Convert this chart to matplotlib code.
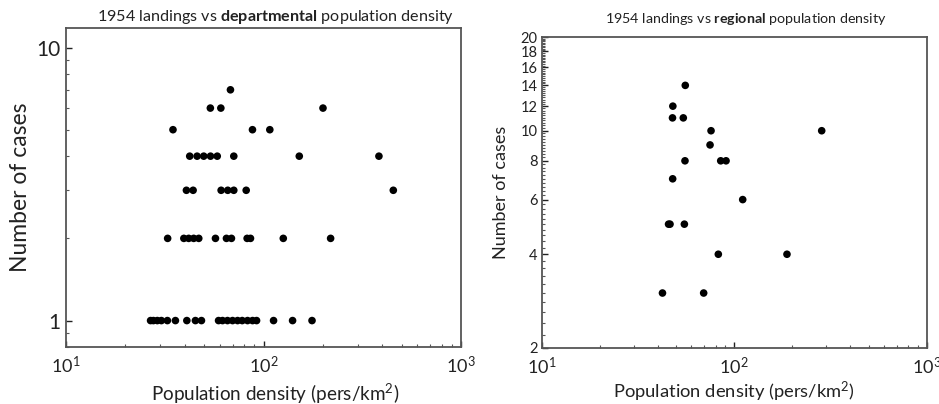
import numpy as np
import matplotlib
matplotlib.use("Agg")
import matplotlib.pyplot as plt
from matplotlib.ticker import LogLocator, FixedLocator, NullFormatter, FixedFormatter

plt.rcParams['font.family'] = ['Lato', 'DejaVu Sans']
plt.rcParams['mathtext.fontset'] = 'custom'
plt.rcParams['mathtext.rm'] = 'Lato'
plt.rcParams['mathtext.it'] = 'Lato:italic'
plt.rcParams['mathtext.bf'] = 'Lato:bold'

# departmental density (pers/km2) and cases, 1954
dep_density = [26.8, 27.7, 29.0, 30.4, 32.6, 35.8, 40.9, 45.2, 48.5,
               59.2, 62.0, 65.7, 69.7, 73.9, 78.0, 83.0, 88.0, 92.2,
               112.4, 140.3, 176,
               32.7, 39.5, 41.8, 44.3, 47.0, 57.1, 64.9, 68.8, 82.6, 85.9, 125.9, 218.6,
               40.7, 44.0, 61.0, 65.9, 70.7, 81.7, 454,
               42.3, 46.1, 49.8, 53.9, 58.3, 70.7, 151.7, 383.9,
               34.8, 87.9, 107.6,
               53.8, 60.8, 200,
               68]
dep_cases = [1]*21 + [2]*12 + [3]*7 + [4]*8 + [5]*3 + [6]*3 + [7]

# regional density and cases
reg_density = [55.7, 48.0, 47.8, 54.4, 75.8, 284.8, 74.9, 55.5, 85.1, 90.7,
               47.9, 110.7, 45.6, 46.4, 55.1, 82.7, 188, 42.4, 69.4]
reg_cases = [14, 12, 11, 11, 10, 10, 9, 8, 8, 8,
             7, 6, 5, 5, 5, 4, 4, 3, 3]

fig = plt.figure(figsize=(9.39, 4.04), dpi=100)
ax1 = fig.add_axes([0.0703, 0.141, 0.4207, 0.790])
ax2 = fig.add_axes([0.5769, 0.1394, 0.41, 0.7683])

spine_col = '#555555'
for ax in (ax1, ax2):
    ax.scatter(dep_density if ax is ax1 else reg_density,
               dep_cases if ax is ax1 else reg_cases,
               s=30, color='black', edgecolors='none', zorder=3)
    ax.set_xscale('log')
    ax.set_yscale('log')
    ax.set_xlim(10, 1000)
    ax.xaxis.set_major_locator(FixedLocator([10, 100, 1000]))
    ax.xaxis.set_major_formatter(FixedFormatter(['$10^1$', '$10^2$', '$10^3$']))
    ax.xaxis.set_minor_locator(LogLocator(base=10, subs=np.arange(2, 10)))
    ax.xaxis.set_minor_formatter(NullFormatter())
    for s in ax.spines.values():
        s.set_color(spine_col)
        s.set_linewidth(1.3)
    ax.tick_params(which='both', direction='in', color=spine_col, top=False, right=False)
    ax.tick_params(which='major', length=4, width=1)
    ax.tick_params(which='minor', length=2.5, width=0.8)
    ax.tick_params(axis='x', labelsize=13, colors='#222222', pad=6)

# left panel
ax1.set_ylim(0.8, 11.8)
ax1.yaxis.set_major_locator(FixedLocator([1, 10]))
ax1.yaxis.set_major_formatter(FixedFormatter(['1', '10']))
ax1.yaxis.set_minor_locator(LogLocator(base=10, subs=np.arange(2, 10)))
ax1.yaxis.set_minor_formatter(NullFormatter())
ax1.tick_params(axis='y', labelsize=15, colors='#222222', pad=4)
ax1.set_ylabel('Number of cases', fontsize=16.5, color='#222222', labelpad=4)
ax1.set_xlabel('Population density (pers/km$^2$)', fontsize=13.6, color='#222222',
               labelpad=4, x=0.53)
ax1.set_title('1954 landings vs $\\mathbf{departmental}$ population density',
              fontsize=11.6, color='#222222', pad=5, x=0.53)

# right panel
yt = [2, 4, 6, 8, 10, 12, 14, 16, 18, 20]
ax2.set_ylim(2, 20)
ax2.yaxis.set_major_locator(FixedLocator(yt))
ax2.yaxis.set_major_formatter(FixedFormatter([str(v) for v in yt]))
ax2.yaxis.set_minor_locator(FixedLocator(np.arange(2.2, 20, 0.2)))
ax2.yaxis.set_minor_formatter(NullFormatter())
ax2.tick_params(axis='y', labelsize=10.5, colors='#222222', pad=3)
ax2.set_ylabel('Number of cases', fontsize=13, color='#222222', labelpad=8)
ax2.set_xlabel('Population density (pers/km$^2$)', fontsize=13.2, color='#222222', labelpad=2)
ax2.set_title('1954 landings vs $\\mathbf{regional}$ population density',
              fontsize=10.3, color='#222222', pad=10, x=0.53)

fig.savefig('out.png', dpi=100)
